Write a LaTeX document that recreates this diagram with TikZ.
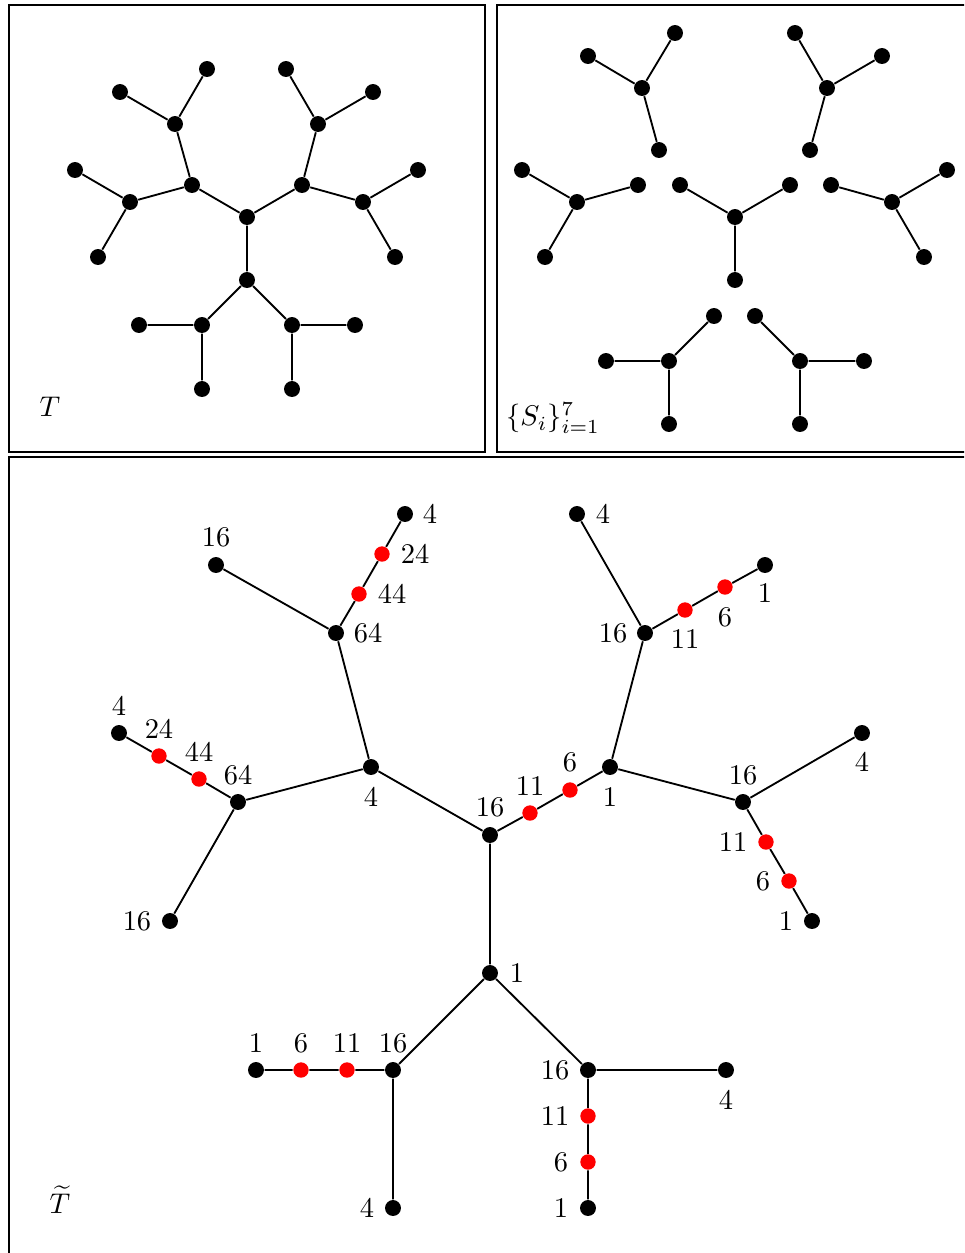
\documentclass[tikz,border=0pt]{standalone}
\usepackage{amsmath}
\begin{document}
\begin{tikzpicture}[x=0.351pt,y=-0.351pt,
  dot/.style={circle,fill=black,inner sep=0pt,minimum size=5.6pt},
  rdot/.style={circle,fill=red,inner sep=0pt,minimum size=5.4pt},
  edge/.style={line width=0.65pt},
  frame/.style={line width=0.7pt},
  lab/.style={inner sep=0pt,font=\normalsize}]
\useasboundingbox (0,0) rectangle (964,1253);
\clip (0,0) rectangle (964,1253);
\draw[frame] (9,5) rectangle (485,452);
\draw[frame] (497,5) rectangle (1000,452);
\draw[frame] (9,457) rectangle (1000,1300);

% ---------- T ----------
\node[dot] (t0) at (247,217) {};
\node[dot] (t1) at (192,185) {};
\node[dot] (t2) at (175,124) {};
\node[dot] (t3) at (120,92) {};
\node[dot] (t4) at (207,69) {};
\node[dot] (t5) at (130,202) {};
\node[dot] (t6) at (75,170) {};
\node[dot] (t7) at (98,257) {};
\node[dot] (t8) at (302,185) {};
\node[dot] (t9) at (318,124) {};
\node[dot] (t10) at (286,69) {};
\node[dot] (t11) at (373,92) {};
\node[dot] (t12) at (363,202) {};
\node[dot] (t13) at (418,170) {};
\node[dot] (t14) at (395,257) {};
\node[dot] (t15) at (247,280) {};
\node[dot] (t16) at (202,325) {};
\node[dot] (t17) at (139,325) {};
\node[dot] (t18) at (202,389) {};
\node[dot] (t19) at (292,325) {};
\node[dot] (t20) at (355,325) {};
\node[dot] (t21) at (292,389) {};
\draw[edge] (t0)--(t1) (t1)--(t2) (t2)--(t3) (t2)--(t4) (t1)--(t5) (t5)--(t6) (t5)--(t7)
  (t0)--(t8) (t8)--(t9) (t9)--(t10) (t9)--(t11) (t8)--(t12) (t12)--(t13) (t12)--(t14)
  (t0)--(t15) (t15)--(t16) (t16)--(t17) (t16)--(t18) (t15)--(t19) (t19)--(t20) (t19)--(t21);
\node[lab] (tT) at (50,407) {$T$};

% ---------- S_i ----------
\node[dot] (sa0) at (735,217) {};
\node[dot] (sa1) at (680,185) {};
\node[dot] (sa2) at (790,185) {};
\node[dot] (sa3) at (735,280) {};
\node[dot] (sb0) at (642,88) {};
\node[dot] (sb1) at (588,56) {};
\node[dot] (sb2) at (675,33) {};
\node[dot] (sb3) at (659,150) {};
\node[dot] (sc0) at (827,88) {};
\node[dot] (sc1) at (795,33) {};
\node[dot] (sc2) at (882,56) {};
\node[dot] (sc3) at (810,150) {};
\node[dot] (sd0) at (577,202) {};
\node[dot] (sd1) at (522,170) {};
\node[dot] (sd2) at (545,257) {};
\node[dot] (sd3) at (638,185) {};
\node[dot] (se0) at (892,202) {};
\node[dot] (se1) at (947,170) {};
\node[dot] (se2) at (924,257) {};
\node[dot] (se3) at (831,185) {};
\node[dot] (sf0) at (669,361) {};
\node[dot] (sf1) at (606,361) {};
\node[dot] (sf2) at (669,424) {};
\node[dot] (sf3) at (714,316) {};
\node[dot] (sg0) at (800,361) {};
\node[dot] (sg1) at (864,361) {};
\node[dot] (sg2) at (800,424) {};
\node[dot] (sg3) at (755,316) {};
\foreach \s in {sa,sb,sc,sd,se,sf,sg}{
  \draw[edge] (\s0)--(\s1) (\s0)--(\s2) (\s0)--(\s3);
}
\node[lab] (sS) at (553,418) {$\{S_i\}_{i=1}^{7}$};

% ---------- T tilde ----------
\node[dot] (C) at (490,835) {};
\node[dot] (R) at (610,767) {};
\node[dot] (L) at (371,767) {};
\node[dot] (D) at (490,973) {};
\node[rdot] (cr1) at (530,813) {};
\node[rdot] (cr2) at (570,790) {};
\node[dot] (LU) at (336,633) {};
\node[dot] (LUa) at (216,565) {};
\node[dot] (LUb) at (405,514) {};
\node[rdot] (lu1) at (359,594) {};
\node[rdot] (lu2) at (382,554) {};
\node[dot] (LL) at (238,802) {};
\node[dot] (LLa) at (119,733) {};
\node[dot] (LLb) at (170,921) {};
\node[rdot] (ll1) at (199,779) {};
\node[rdot] (ll2) at (159,756) {};
\node[dot] (RU) at (645,633) {};
\node[dot] (RUa) at (577,514) {};
\node[dot] (RUb) at (765,565) {};
\node[rdot] (ru1) at (685,610) {};
\node[rdot] (ru2) at (725,587) {};
\node[dot] (RR) at (743,802) {};
\node[dot] (RRa) at (862,733) {};
\node[dot] (RRb) at (812,921) {};
\node[rdot] (rr1) at (766,842) {};
\node[rdot] (rr2) at (789,881) {};
\node[dot] (DL) at (393,1070) {};
\node[dot] (DLa) at (256,1070) {};
\node[dot] (DLb) at (393,1208) {};
\node[rdot] (dl1) at (347,1070) {};
\node[rdot] (dl2) at (301,1070) {};
\node[dot] (DR) at (588,1070) {};
\node[dot] (DRa) at (726,1070) {};
\node[dot] (DRb) at (588,1208) {};
\node[rdot] (dr1) at (588,1116) {};
\node[rdot] (dr2) at (588,1162) {};

\draw[edge] (C)--(cr1) (cr1)--(cr2) (cr2)--(R) (C)--(L) (C)--(D)
  (L)--(LU) (LU)--(LUa) (LU)--(lu1) (lu1)--(lu2) (lu2)--(LUb)
  (L)--(LL) (LL)--(ll1) (ll1)--(ll2) (ll2)--(LLa) (LL)--(LLb)
  (R)--(RU) (RU)--(RUa) (RU)--(ru1) (ru1)--(ru2) (ru2)--(RUb)
  (R)--(RR) (RR)--(RRa) (RR)--(rr1) (rr1)--(rr2) (rr2)--(RRb)
  (D)--(DL) (DL)--(dl1) (dl1)--(dl2) (dl2)--(DLa) (DL)--(DLb)
  (D)--(DR) (DR)--(DRa) (DR)--(dr1) (dr1)--(dr2) (dr2)--(DRb);

\node[lab] (lC) at (490,807) {16};
\node[lab] (lR) at (610,797) {1};
\node[lab] (lcr1) at (530,786) {11};
\node[lab] (lcr2) at (570,762) {6};
\node[lab] (lL) at (371,797) {4};
\node[lab] (lD) at (517,973) {1};
\node[lab] (lLU) at (368,633) {64};
\node[lab] (lLUa) at (216,537) {16};
\node[lab] (lLUb) at (430,514) {4};
\node[lab] (llu1) at (392,594) {44};
\node[lab] (llu2) at (415,554) {24};
\node[lab] (lLL) at (238,775) {64};
\node[lab] (lLLa) at (119,706) {4};
\node[lab] (lll2) at (159,729) {24};
\node[lab] (lll1) at (199,752) {44};
\node[lab] (lLLb) at (137,921) {16};
\node[lab] (lRU) at (613,633) {16};
\node[lab] (lRUa) at (603,514) {4};
\node[lab] (lRUb) at (765,593) {1};
\node[lab] (lru1) at (685,639) {11};
\node[lab] (lru2) at (725,617) {6};
\node[lab] (lRR) at (743,775) {16};
\node[lab] (lRRa) at (862,762) {4};
\node[lab] (lRRb) at (786,921) {1};
\node[lab] (lrr1) at (733,842) {11};
\node[lab] (lrr2) at (763,881) {6};
\node[lab] (lDL) at (393,1043) {16};
\node[lab] (lDLa) at (256,1043) {1};
\node[lab] (ldl2) at (301,1043) {6};
\node[lab] (ldl1) at (347,1043) {11};
\node[lab] (lDLb) at (367,1208) {4};
\node[lab] (lDR) at (555,1070) {16};
\node[lab] (lDRa) at (726,1100) {4};
\node[lab] (lDRb) at (561,1208) {1};
\node[lab] (ldr1) at (555,1116) {11};
\node[lab] (ldr2) at (561,1162) {6};
\node[lab] (tTt) at (60,1200) {$\widetilde{T}$};
\end{tikzpicture}
\end{document}
